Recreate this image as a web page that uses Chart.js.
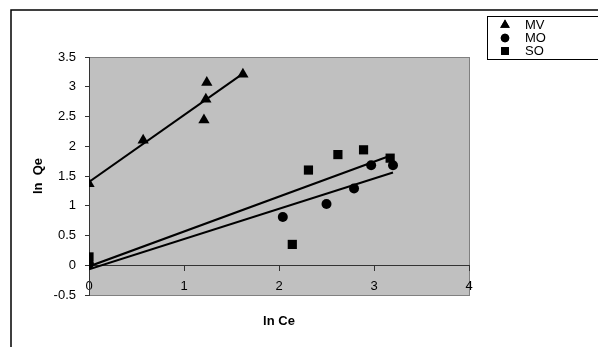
<!DOCTYPE html>
<html>
<head>
<meta charset="utf-8">
<script src="https://cdn.jsdelivr.net/npm/chart.js@4.4.1/dist/chart.umd.min.js"></script>
<style>
  html, body { margin: 0; padding: 0; background: #fff; }
  #wrap { width: 598px; height: 347px; }
</style>
</head>
<body>
<div id="wrap"><canvas id="myChart" width="598" height="347"></canvas></div>
<script>
// points (x = ln Ce, y = ln Qe)
const mvX = [0, 0.57, 1.21, 1.23, 1.24, 1.62];
const mvY = [1.37, 2.1, 2.44, 2.79, 3.07, 3.21];
const moX = [0, 2.04, 2.5, 2.79, 2.97, 3.2];
const moY = [0.02, 0.81, 1.03, 1.29, 1.68, 1.68];
const soX = [0, 2.14, 2.31, 2.62, 2.89, 3.17];
const soY = [0.14, 0.35, 1.6, 1.86, 1.94, 1.8];

// linear trendlines, end points
const mvTrendX = [0, 1.62];
const mvTrendY = [1.4, 3.22];
const moTrendX = [0, 3.2];
const moTrendY = [-0.07, 1.56];
const soTrendX = [0, 3.17];
const soTrendY = [-0.02, 1.84];

const seriesNames = ["MV", "MO", "SO"];
const seriesMarkers = ["triangle", "circle", "rect"];
const xTitle = "ln Ce";
const yTitle = "ln  Qe";

const toPoints = (xs, ys) => xs.map((x, i) => ({x: x, y: ys[i]}));
// tick text like the original: 3, 2.5, 2 ... (no trailing .0)
const tickText = (v) => String(Math.round(v * 10) / 10);

function trend(xs, ys) {
    return {
        data: toPoints(xs, ys),
        showLine: true,
        pointRadius: 0,
        borderColor: "#000",
        borderWidth: 2,
        fill: false,
    };
}

function markers(label, xs, ys, style, r) {
    return {
        label: label,
        data: toPoints(xs, ys),
        showLine: false,
        pointStyle: style,
        pointRadius: r,
        backgroundColor: "#000",
        borderColor: "#000",
        borderWidth: 0,
    };
}

// frame, grey plot area, legend box and axis titles
const decor = {
    id: "decor",
    beforeDraw(chart) {
        const c = chart.ctx;
        const a = chart.chartArea;
        c.save();
        c.fillStyle = "#fff";
        c.fillRect(0, 0, chart.width, chart.height);
        c.strokeStyle = "#000";
        c.lineWidth = 1.5;
        c.strokeRect(11, 10, chart.width + 10, chart.height + 10);
        c.fillStyle = "#c0c0c0";
        c.fillRect(a.left, a.top, a.right - a.left, a.bottom - a.top);
        c.strokeStyle = "#808080";
        c.lineWidth = 1;
        c.strokeRect(a.left + 0.5, a.top + 0.5, a.right - a.left, a.bottom - a.top);
        c.restore();
    },
    afterDraw(chart) {
        const c = chart.ctx;
        const a = chart.chartArea;
        c.save();
        // axis titles
        c.fillStyle = "#000";
        c.font = "bold 13px 'Liberation Sans', Arial, sans-serif";
        c.textAlign = "center";
        c.textBaseline = "middle";
        c.fillText(xTitle, 279, 321);
        c.translate(38, (a.top + a.bottom) / 2);
        c.rotate(-Math.PI / 2);
        c.fillText(yTitle, 0, 0);
        c.restore();

        // legend
        c.save();
        c.strokeStyle = "#000";
        c.lineWidth = 1;
        c.strokeRect(487.5, 16.5, 120, 43);
        c.font = "13px 'Liberation Sans', Arial, sans-serif";
        c.textAlign = "left";
        c.textBaseline = "middle";
        c.fillStyle = "#000";
        seriesNames.forEach((name, i) => {
            const y = 25 + i * 13;
            const ds = chart.data.datasets[3 + i];
            Chart.helpers.drawPoint(c, {
                pointStyle: ds.pointStyle,
                radius: ds.pointRadius * 0.85,
                borderWidth: 0,
                rotation: 0,
            }, 505, y);
            c.fill();
            c.fillText(name, 525, y);
        });
        c.restore();
    },
};

new Chart(document.getElementById("myChart"), {
    type: "scatter",
    data: {
        datasets: [
            trend(mvTrendX, mvTrendY),
            trend(moTrendX, moTrendY),
            trend(soTrendX, soTrendY),
            markers(seriesNames[0], mvX, mvY, seriesMarkers[0], 6.5),
            markers(seriesNames[1], moX, moY, seriesMarkers[1], 5),
            markers(seriesNames[2], soX, soY, seriesMarkers[2], 6.5),
        ],
    },
    options: {
        responsive: false,
        animation: false,
        devicePixelRatio: 1,
        layout: {padding: {left: 0, top: 57, right: 129, bottom: 52}},
        plugins: {
            legend: {display: false},
            tooltip: {enabled: false},
        },
        scales: {
            x: {
                type: "linear",
                min: 0,
                max: 4,
                position: {y: 0},
                ticks: {
                    stepSize: 1,
                    color: "#000",
                    padding: 8,
                    callback: tickText,
                    font: {family: "'Liberation Sans', Arial, sans-serif", size: 13},
                },
                grid: {drawOnChartArea: false, tickLength: 5, color: "#333"},
                border: {color: "#333", width: 1},
            },
            y: {
                type: "linear",
                min: -0.5,
                max: 3.5,
                ticks: {
                    stepSize: 0.5,
                    color: "#000",
                    padding: 9,
                    callback: tickText,
                    font: {family: "'Liberation Sans', Arial, sans-serif", size: 13},
                },
                grid: {drawOnChartArea: false, tickLength: 4, color: "#333"},
                border: {color: "#333", width: 1},
                afterFit(scale) { scale.width = 89; },
            },
        },
    },
    plugins: [decor],
});
</script>
</body>
</html>
